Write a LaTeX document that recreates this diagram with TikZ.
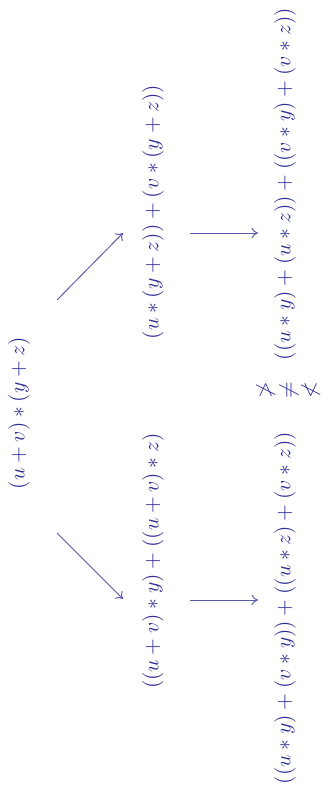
\documentclass[tikz,border=0pt]{standalone}
\usepackage{amsmath,amssymb}
\usetikzlibrary{arrows.meta}
\definecolor{txt}{RGB}{48,48,150}
\definecolor{arr}{RGB}{90,90,170}
\begin{document}
\begin{tikzpicture}[x=0.465pt,y=-0.465pt,
  expr/.style={rotate=90,text=txt,inner sep=0pt},
  arrow/.style={-{To[length=3pt,width=5pt]},draw=arr,line width=0.45pt}]
\useasboundingbox (0,0) rectangle (323,807);
\node[expr] (A) at (19,413) {$(u+v)*(y+z)$};
\node[expr] (B) at (153,212) {$(u*(y+z))+(v*(y+z))$};
\node[expr] (C) at (153,561) {$((u+v)*y)+((u+v)*z)$};
\node[expr] (D) at (285,184) {$((u*y)+(u*z))+((v*y)+(v*z))$};
\node[expr] (E) at (285,608) {$((u*y)+(v*y))+((u*z)+(v*z))$};
\node[expr] (R1) at (266,390) {$\ngtr$};
\node[expr] (R2) at (289,390) {$\neq$};
\node[expr] (R3) at (311,390) {$\nless$};
\coordinate (a1) at (57,300);
\coordinate (b1) at (123,233);
\coordinate (a2) at (57,533);
\coordinate (c1) at (123,599);
\coordinate (b2) at (190,233);
\coordinate (d1) at (258,233);
\coordinate (c2) at (190,600);
\coordinate (e1) at (258,600);
\draw[arrow] (a1) -- (b1);
\draw[arrow] (a2) -- (c1);
\draw[arrow] (b2) -- (d1);
\draw[arrow] (c2) -- (e1);
\end{tikzpicture}
\end{document}
